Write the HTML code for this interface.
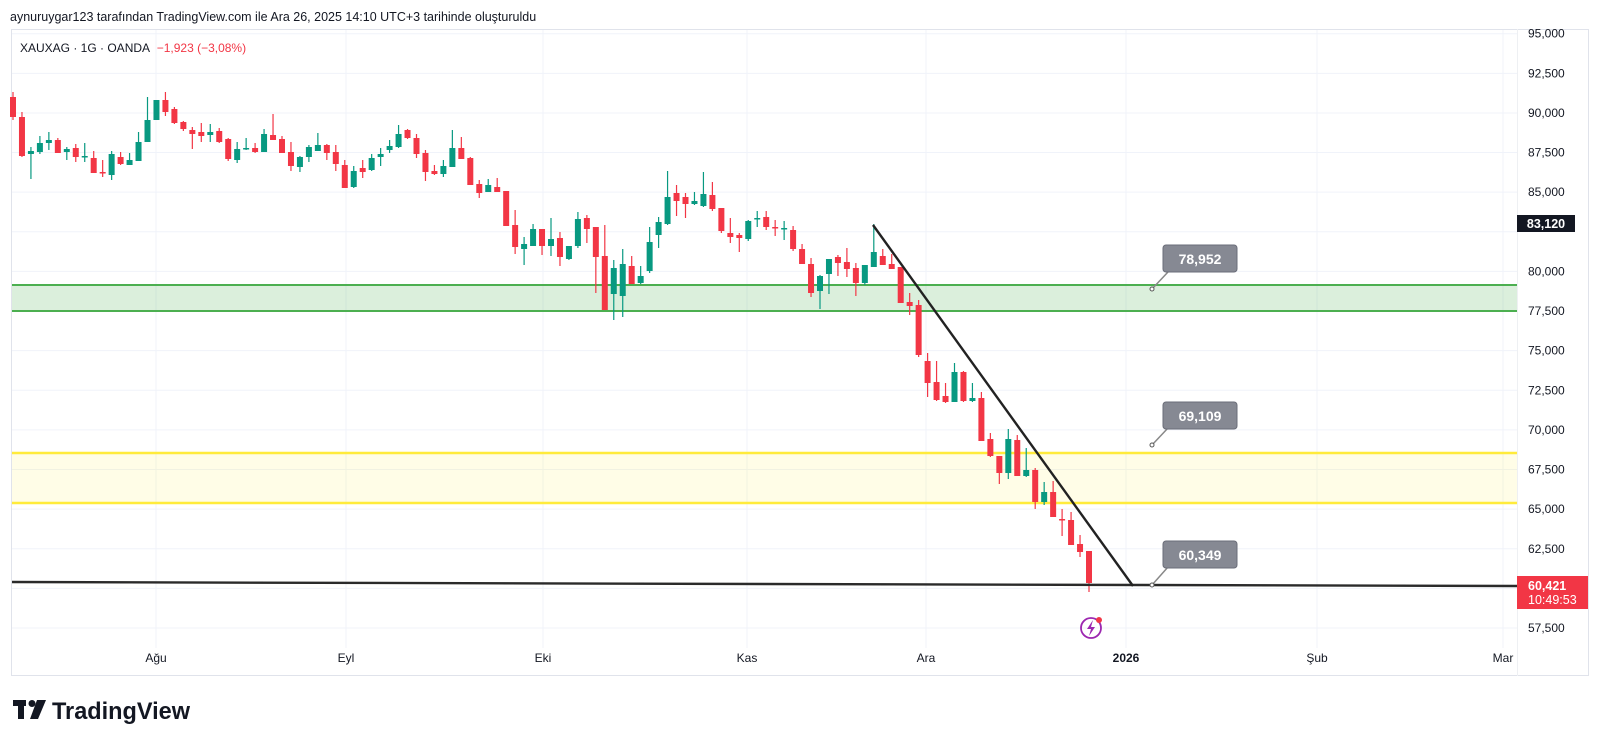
<!DOCTYPE html>
<html><head><meta charset="utf-8">
<style>
body{margin:0;background:#fff;width:1600px;height:741px;overflow:hidden;font-family:"Liberation Sans",sans-serif;}
svg{position:absolute;left:0;top:0}
</style></head><body>
<svg id="s" width="1600" height="741" xmlns="http://www.w3.org/2000/svg" font-family="Liberation Sans, sans-serif">
<text x="10" y="21" font-size="12.5" fill="#131722">aynuruygar123 tarafından TradingView.com ile Ara 26, 2025 14:10 UTC+3 tarihinde oluşturuldu</text>
<rect x="11.5" y="29.5" width="1577" height="646" fill="none" stroke="#e0e3eb"/>
<line x1="1517.5" y1="29" x2="1517.5" y2="676" stroke="#eef0f3"/>
<g id="grid"></g>
<rect x="12" y="285" width="1505" height="26" fill="#4caf50" fill-opacity="0.2"/>
<line x1="12" y1="285" x2="1517" y2="285" stroke="#4caf50" stroke-width="2"/>
<line x1="12" y1="311" x2="1517" y2="311" stroke="#4caf50" stroke-width="2"/>
<rect x="12" y="453" width="1505" height="50" fill="#ffeb3b" fill-opacity="0.12"/>
<line x1="12" y1="453" x2="1517" y2="453" stroke="#ffeb3b" stroke-width="2.5"/>
<line x1="12" y1="503" x2="1517" y2="503" stroke="#ffeb3b" stroke-width="2.5"/>
<g id="c"></g>
<line x1="12" y1="582" x2="1517" y2="586" stroke="#2a2a2a" stroke-width="2.4"/>
<line x1="873" y1="225" x2="1133" y2="586" stroke="#222" stroke-width="2.4"/>
<g font-size="14" font-weight="bold" fill="#fff">
<path d="M1152 289 L1168 272" stroke="#888" stroke-width="1.5"/><circle cx="1152" cy="289" r="2" fill="#fff" stroke="#555"/>
<rect x="1163" y="245" width="74" height="27" rx="3" fill="#868993" stroke="#6a6d78"/><text x="1200" y="264" text-anchor="middle">78,952</text>
<path d="M1152 445 L1168 428" stroke="#888" stroke-width="1.5"/><circle cx="1152" cy="445" r="2" fill="#fff" stroke="#555"/>
<rect x="1163" y="402" width="74" height="27" rx="3" fill="#868993" stroke="#6a6d78"/><text x="1200" y="421" text-anchor="middle">69,109</text>
<path d="M1152 585 L1168 567" stroke="#888" stroke-width="1.5"/><circle cx="1152" cy="585" r="2" fill="#fff" stroke="#555"/>
<rect x="1163" y="541" width="74" height="27" rx="3" fill="#868993" stroke="#6a6d78"/><text x="1200" y="560" text-anchor="middle">60,349</text>
</g>
<text x="20" y="52" font-size="12" fill="#131722">XAUXAG · 1G · OANDA <tspan fill="#f23645" dx="4">−1,923 (−3,08%)</tspan></text>
<g id="ax" font-size="12" fill="#131722"></g>
<rect x="1517" y="215" width="58" height="17" fill="#131722"/><text x="1546" y="228" text-anchor="middle" font-size="12.5" font-weight="bold" fill="#fff">83,120</text>
<rect x="1517" y="576" width="71" height="33" fill="#f23645"/>
<text x="1528" y="590" font-size="12.5" font-weight="bold" fill="#fff">60,421</text>
<text x="1528" y="604" font-size="12.5" fill="#fff">10:49:53</text>
<circle cx="1091" cy="628" r="10" fill="none" stroke="#9c27b0" stroke-width="1.8"/>
<path d="M1093 620 L1087 629 L1091 629 L1089 636 L1095 627 L1091 627 Z" fill="#9c27b0"/>
<circle cx="1099" cy="620" r="3" fill="#f23645"/>
<g font-size="12" fill="#131722" text-anchor="middle">
<text x="156" y="662">Ağu</text><text x="346" y="662">Eyl</text><text x="543" y="662">Eki</text><text x="747" y="662">Kas</text><text x="926" y="662">Ara</text><text x="1126" y="662" font-weight="bold">2026</text><text x="1317" y="662">Şub</text><text x="1503" y="662">Mar</text>
</g>
<g fill="#131722"><rect x="13" y="700" width="13" height="6"/><rect x="18" y="700" width="6" height="19"/><circle cx="32" cy="703.5" r="3.5"/><path d="M37 700 L46 700 L38 719 L30 719 Z"/></g>
<text x="52" y="719" font-size="24" font-weight="bold" fill="#131722" textLength="138" lengthAdjust="spacingAndGlyphs">TradingView</text>
</svg>
<script>
var g=document.getElementById('grid'),ax=document.getElementById('ax'),ns='http://www.w3.org/2000/svg';
function el(t,a,p){var e=document.createElementNS(ns,t);for(var k in a)e.setAttribute(k,a[k]);p.appendChild(e);return e;}
for(var p=95000;p>=57500;p-=2500){var y=33.7+(95000-p)*0.015848;
el('line',{x1:12,y1:y,x2:1517,y2:y,stroke:'#f0f3fa'},g);
if(p!=82500){var t=el('text',{x:1528,y:y+4},ax);t.textContent=p.toLocaleString('en-US');}}
[156,346,543,747,926,1126,1317,1503].forEach(function(x){el('line',{x1:x,y1:30,x2:x,y2:648,stroke:'#f0f3fa'},g);});
var d=[[97,117,92,120,'r'],[117,156,112,157,'r'],[151,154,147,179,'g'],[143,152,136,154,'g'],[140,143,132,150,'g'],[140,153,138,153,'r'],[149,152,147,160,'g'],[148,157,144,162,'r'],[156,157,143,162,'g'],[158,173,151,173,'r'],[172,173,160,177,'r'],[154,175,151,180,'g'],[157,164,152,165,'r'],[160,165,153,165,'g'],[142,161,132,161,'g'],[120,142,97,142,'g'],[100,120,100,120,'g'],[100,112,92,116,'r'],[109,123,107,124,'r'],[122,129,121,131,'r'],[130,134,127,149,'r'],[132,136,123,142,'r'],[132,135,124,142,'g'],[131,142,128,143,'r'],[139,159,138,161,'r'],[149,160,142,163,'g'],[148,149,138,150,'g'],[148,152,143,153,'r'],[134,152,129,152,'g'],[135,140,114,140,'r'],[139,153,136,153,'r'],[152,166,142,171,'r'],[157,167,156,172,'g'],[147,157,145,162,'g'],[145,151,133,151,'g'],[145,153,144,160,'r'],[152,164,145,171,'r'],[165,188,160,188,'r'],[171,187,166,188,'g'],[168,172,160,178,'r'],[158,170,154,171,'g'],[154,157,148,166,'g'],[146,150,140,153,'g'],[134,147,125,148,'g'],[130,138,129,139,'r'],[138,154,134,158,'r'],[153,172,150,181,'r'],[171,174,165,175,'r'],[166,174,160,177,'g'],[148,167,130,167,'g'],[148,159,137,159,'r'],[158,185,157,185,'r'],[184,193,180,198,'r'],[185,192,179,192,'g'],[187,192,178,192,'r'],[191,226,191,226,'r'],[225,247,210,254,'r'],[244,249,237,265,'g'],[229,246,224,246,'g'],[229,246,229,255,'r'],[239,246,218,256,'g'],[238,257,232,266,'r'],[246,259,246,260,'g'],[219,246,212,248,'g'],[218,229,215,243,'r'],[227,257,227,293,'r'],[256,310,225,310,'r'],[268,294,260,320,'g'],[264,296,249,317,'g'],[266,284,256,284,'r'],[276,283,266,284,'g'],[242,271,227,273,'g'],[222,235,217,248,'g'],[197,224,171,225,'g'],[193,201,185,216,'r'],[197,204,193,218,'r'],[201,204,192,205,'g'],[194,206,172,207,'g'],[195,209,182,211,'r'],[208,231,208,233,'r'],[233,237,218,243,'r'],[235,238,233,252,'r'],[221,239,220,241,'g'],[218,219,211,227,'g'],[217,227,211,230,'r'],[227,228,220,236,'r'],[228,229,221,240,'g'],[230,249,226,251,'r'],[249,264,244,264,'r'],[264,293,258,297,'r'],[276,291,275,309,'g'],[259,274,259,294,'g'],[257,263,255,276,'r'],[262,269,248,277,'r'],[268,283,263,296,'r'],[265,283,265,285,'g'],[252,267,224,267,'g'],[256,265,249,265,'r'],[264,269,254,269,'r'],[267,303,267,303,'r'],[302,306,293,315,'r'],[305,355,300,357,'r'],[361,383,353,397,'r'],[382,400,361,401,'r'],[396,402,383,403,'r'],[372,402,363,402,'g'],[372,401,371,402,'r'],[398,401,383,402,'g'],[398,441,392,441,'r'],[439,456,433,457,'r'],[456,473,456,484,'r'],[439,473,429,479,'g'],[440,476,435,476,'r'],[470,476,448,477,'g'],[470,502,468,509,'r'],[492,502,482,505,'g'],[492,517,481,517,'r'],[519,520,509,536,'r'],[520,545,512,545,'r'],[544,552,535,557,'r'],[551,583,551,592,'r']];
var c=document.getElementById('c'),n=d.length;
d.forEach(function(k,i){var x=13+i*(1089-13)/(n-1),col=k[4]=='r'?'#f23645':'#089981';
el('line',{x1:x,y1:k[2],x2:x,y2:k[3],stroke:col,'stroke-width':1.2},c);
el('rect',{x:x-3,y:k[0],width:6,height:Math.max(1.5,k[1]-k[0]),fill:col},c);});
</script>
</body></html>
